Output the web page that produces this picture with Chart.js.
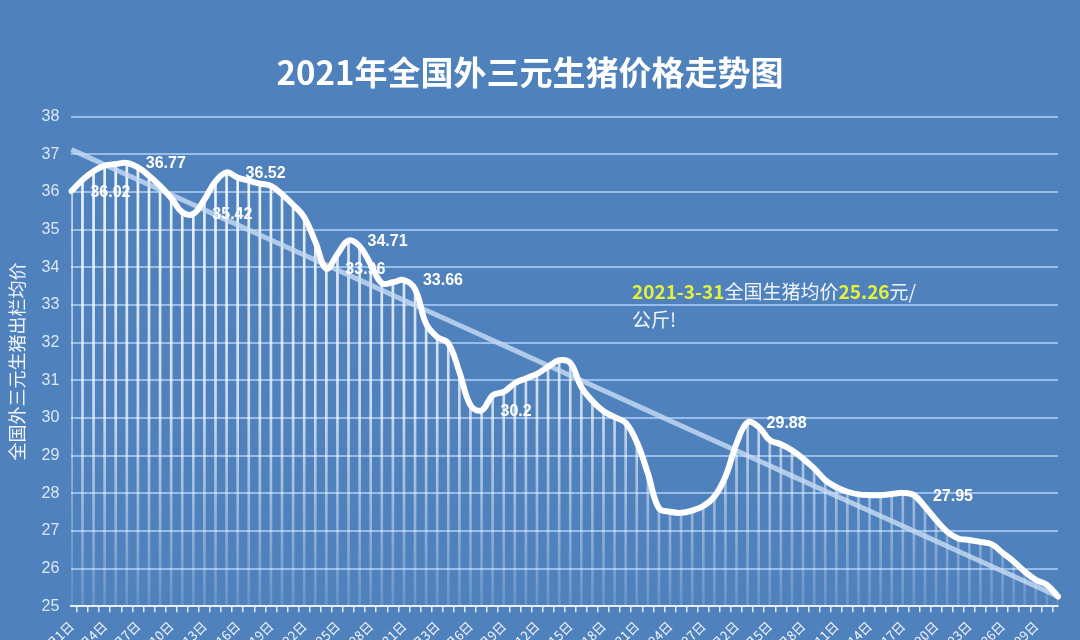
<!DOCTYPE html>
<html>
<head>
<meta charset="utf-8">
<script src="https://cdn.jsdelivr.net/npm/chart.js@4.4.1/dist/chart.umd.min.js"></script>
<style>
    html, body { margin: 0; padding: 0; background: #4f81bd; overflow: hidden; }
    #wrap { width: 1080px; height: 640px; overflow: hidden; }
    #box { width: 1080px; height: 680px; position: relative; }
</style>
</head>
<body>
<div id="wrap"><div id="box"><canvas id="priceChart"></canvas></div></div>
<script>
// 2021年1-3月 全国外三元生猪日均价 (元/公斤)
const months = [1, 2, 3];
const monthDays = [31, 28, 31];

const prices = [
    36.02, 36.32, 36.55, 36.70, 36.74, 36.77, 36.65, 36.43, 36.16, 35.84,
    35.46, 35.42, 35.80, 36.28, 36.52, 36.38, 36.30, 36.22, 36.16, 35.94,
    35.66, 35.33, 34.68, 33.96, 34.35, 34.71, 34.56, 34.08, 33.58, 33.60,
    33.66, 33.42, 32.50, 32.15, 31.98, 31.22, 30.34, 30.20, 30.60, 30.69,
    30.92, 31.05, 31.17, 31.36, 31.53, 31.46, 30.82, 30.45, 30.18, 30.02,
    29.87, 29.36, 28.53, 27.60, 27.51, 27.48, 27.54, 27.66, 27.91, 28.44,
    29.32, 29.88, 29.76, 29.41, 29.30, 29.14, 28.92, 28.66, 28.35, 28.16,
    28.04, 27.97, 27.95, 27.95, 27.98, 28.01, 27.95, 27.64, 27.29, 26.98,
    26.80, 26.76, 26.71, 26.65, 26.42, 26.19, 25.92, 25.70, 25.57, 25.26
];

// 显示数值标签的点
const labelPoints = [0, 5, 11, 14, 23, 25, 30, 37, 61, 76];

const yTicks = [25, 38];

const dayLabels = [];
months.forEach((m, k) => {
    for (let d = 1; d <= monthDays[k]; d++) dayLabels.push(m + '月' + d + '日');
});

// 线性趋势线 (最小二乘)
const trendOf = (vals) => {
    const n = vals.length;
    let sx = 0, sy = 0, sxy = 0, sxx = 0;
    vals.forEach((v, i) => { sx += i; sy += v; sxy += i * v; sxx += i * i; });
    const b = (n * sxy - sx * sy) / (n * sxx - sx * sx);
    const a = (sy - b * sx) / n;
    return vals.map((_, i) => a + b * i);
};

const YELLOW = '#e4f23c';
const WHITE = '#f2f6fb';

const dropGradient = (context) => {
    const { ctx, chartArea } = context.chart;
    if (!chartArea) return 'rgba(255,255,255,0.5)';
    const g = ctx.createLinearGradient(0, chartArea.top, 0, chartArea.bottom);
    g.addColorStop(0, 'rgba(255,255,255,0.95)');
    g.addColorStop(0.6, 'rgba(255,255,255,0.7)');
    g.addColorStop(1, 'rgba(255,255,255,0.15)');
    return g;
};

// 数据标签
const pointLabels = {
    id: 'pointLabels',
    afterDatasetsDraw(chart) {
        const meta = chart.getDatasetMeta(2);
        const ctx = chart.ctx;
        ctx.save();
        ctx.font = 'bold 16px "Liberation Sans", Arial, sans-serif';
        ctx.fillStyle = '#ffffff';
        ctx.textAlign = 'left';
        ctx.textBaseline = 'middle';
        labelPoints.forEach(i => {
            const pt = meta.data[i];
            ctx.fillText(String(prices[i]), pt.x + 19, pt.y + 1);
        });
        ctx.restore();
    }
};

// 文字注释
const note = {
    id: 'note',
    afterDraw(chart) {
        const ctx = chart.ctx;
        const parts = [['2021-3-31', YELLOW, 'bold'], ['全国生猪均价', WHITE, 'normal'], ['25.26', YELLOW, 'bold'], ['元/', WHITE, 'normal']];
        ctx.save();
        ctx.textBaseline = 'middle';
        let x = 632;
        parts.forEach(([t, c, w]) => {
            ctx.font = w + ' 19px "Noto Sans CJK SC", sans-serif';
            ctx.fillStyle = c;
            ctx.fillText(t, x, 292);
            x += ctx.measureText(t).width;
        });
        ctx.font = 'normal 19px "Noto Sans CJK SC", sans-serif';
        ctx.fillStyle = WHITE;
        ctx.fillText('公斤!', 632, 320);
        ctx.restore();
    }
};

const ctx = document.getElementById('priceChart').getContext('2d');
new Chart(ctx, {
    data: {
        labels: dayLabels,
        datasets: [
            {
                type: 'bar', data: prices, backgroundColor: dropGradient,
                barThickness: 2, order: 3
            },
            {
                type: 'line', data: trendOf(prices), borderColor: 'rgba(200,220,245,0.8)',
                borderWidth: 5, pointRadius: 0, tension: 0, order: 2
            },
            {
                type: 'line', data: prices, borderColor: '#ffffff', borderWidth: 6,
                pointRadius: 0, tension: 0.4, borderCapStyle: 'round', borderJoinStyle: 'round', order: 1
            }
        ]
    },
    options: {
        responsive: true, maintainAspectRatio: false, animation: false,
        layout: { padding: { left: 2, right: 22, top: 0, bottom: 11 } },
        scales: {
            x: {
                offset: false,
                grid: { display: true, drawOnChartArea: false, drawTicks: true, tickLength: 6, color: '#dfe9f6', lineWidth: 1.5 },
                border: { color: '#e6eef9', width: 2 },
                ticks: {
                    autoSkip: false, maxRotation: 45, minRotation: 45, color: WHITE, padding: 6,
                    font: { size: 13, family: '"Noto Sans CJK SC", sans-serif' },
                    callback: (v, i) => (i % 3 === 0 ? dayLabels[i] : '')
                }
            },
            y: {
                min: yTicks[0], max: yTicks[1],
                grid: { color: 'rgba(160,195,240,0.9)', lineWidth: 2, drawTicks: false },
                border: { display: false },
                ticks: { stepSize: 1, color: '#dde7f4', padding: 12, font: { size: 16, family: '"Liberation Sans", Arial, sans-serif' } },
                title: {
                    display: true, text: '全国外三元生猪出栏均价', color: WHITE,
                    font: { size: 18, family: '"Noto Sans CJK SC", sans-serif' }, padding: { bottom: 2 }
                }
            }
        },
        plugins: {
            legend: { display: false },
            tooltip: { enabled: false },
            title: {
                display: true, text: '2021年全国外三元生猪价格走势图', color: '#ffffff',
                font: { size: 33, weight: 'bold', family: '"Noto Sans CJK SC", sans-serif' },
                padding: { top: 53, bottom: 24 }
            }
        }
    },
    plugins: [pointLabels, note]
});
</script>
</body>
</html>
